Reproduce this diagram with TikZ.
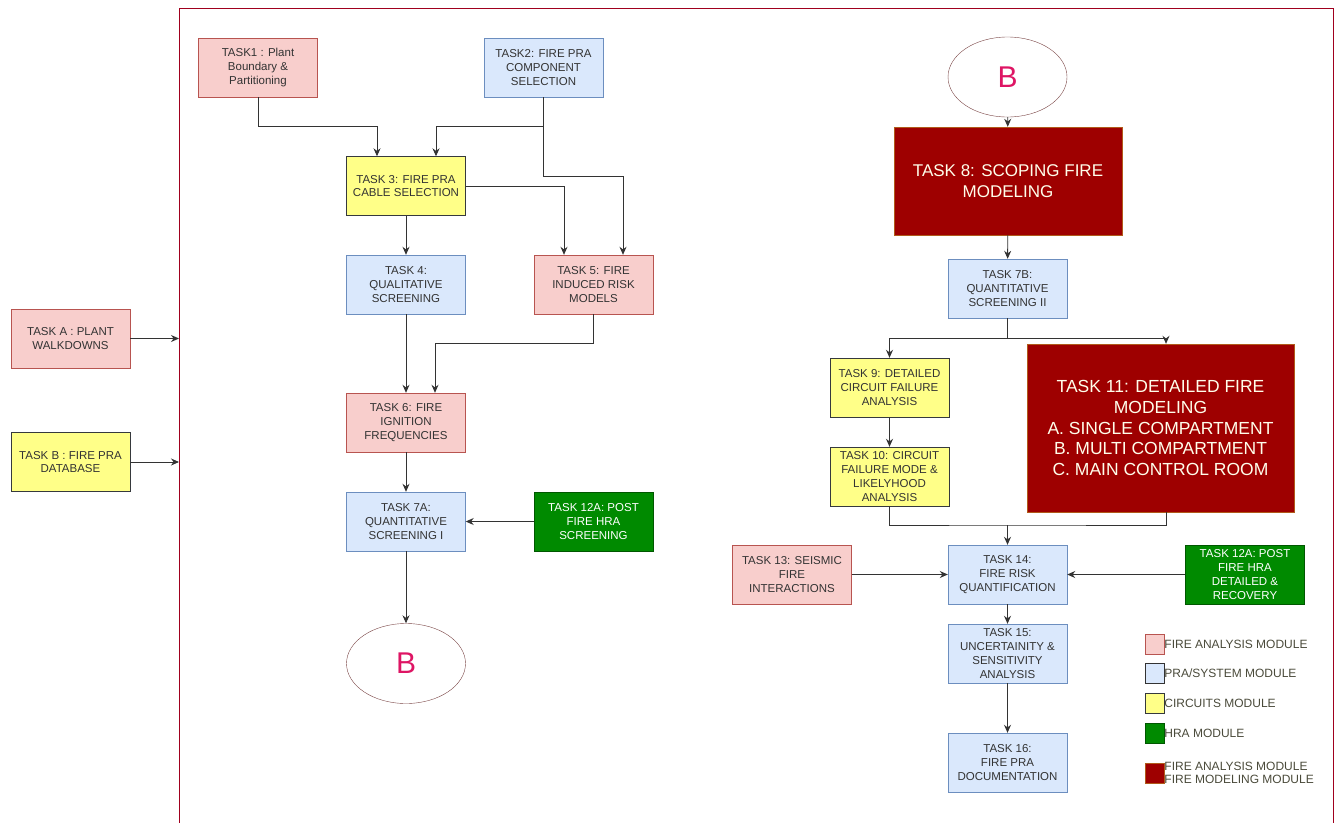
\documentclass[tikz,border=0pt]{standalone}
\usepackage{xcolor}
\usepackage{fontspec}
\setmainfont{Liberation Sans}
\usepackage{tikz}
\usetikzlibrary{arrows.meta,shapes.geometric}

\definecolor{firepink}{HTML}{F8CECC}
\definecolor{firepinkD}{HTML}{B85450}
\definecolor{prablue}{HTML}{DAE8FC}
\definecolor{prablueD}{HTML}{6C8EBF}
\definecolor{circyel}{HTML}{FFFF88}
\definecolor{circyelD}{HTML}{36393D}
\definecolor{hragreen}{HTML}{008A00}
\definecolor{hragreenD}{HTML}{005700}
\definecolor{modelred}{HTML}{9E0000}
\definecolor{modelD}{HTML}{B05A1A}
\definecolor{ellD}{HTML}{7A4545}
\definecolor{bcol}{HTML}{DE1564}
\definecolor{framecol}{HTML}{A0001E}
\definecolor{legtext}{HTML}{4A4A3A}

\tikzset{
  box/.style={draw, minimum width=119pt, minimum height=59pt, inner sep=1pt, align=center,
    font=\fontsize{11.5}{13.8}\selectfont, text=black!80},
  fireA/.style={box, fill=firepink, draw=firepinkD},
  pra/.style={box, fill=prablue, draw=prablueD},
  circ/.style={box, fill=circyel, draw=circyelD},
  hra/.style={box, fill=hragreen, draw=hragreenD, text=white},
  model/.style={draw=modelD, fill=modelred, text=white!92!yellow, align=center, inner sep=0pt,
    font=\fontsize{17}{20.8}\selectfont},
  term/.style={ellipse, draw=ellD, fill=white, minimum width=119pt, minimum height=80pt,
    inner sep=0pt, text=bcol, font=\fontsize{30}{30}\selectfont},
  arr/.style={-{Stealth[length=8pt,width=7pt]}, draw=black!80, line width=0.9pt},
  ln/.style={draw=black!80, line width=0.9pt},
  legsw/.style={draw, minimum width=19pt, minimum height=20pt, inner sep=0pt},
  legtx/.style={anchor=west, inner sep=0pt, text=legtext, align=left,
    font=\fontsize{12}{13}\selectfont}
}

\begin{document}
\begin{tikzpicture}[x=1pt,y=-1pt]
\useasboundingbox (0,0) rectangle (1340,822);
%frame
\draw[framecol, line width=0.8pt] (179,830) -- (179,8) -- (1333,8) -- (1333,830);
%left column
\node[fireA] (taskA) at (70.5,338.5) {TASK A : PLANT\\WALKDOWNS};
\node[circ] (taskB) at (70.5,462) {TASK B : FIRE PRA\\DATABASE};
\coordinate (inA) at (179,338.5);
\coordinate (inB) at (179,462);
%first sheet
\node[fireA] (task1) at (258,67.5) {TASK1 : Plant\\Boundary \&\\Partitioning};
\node[pra] (task2) at (543.5,67.5) {TASK2: FIRE PRA\\COMPONENT\\SELECTION};
\node[circ] (task3) at (406,186) {TASK 3: FIRE PRA\\CABLE SELECTION};
\node[pra] (task4) at (406,284.5) {TASK 4:\\QUALITATIVE\\SCREENING};
\node[fireA] (task5) at (593.5,284.5) {TASK 5: FIRE\\INDUCED RISK\\MODELS};
\node[fireA] (task6) at (406,422.5) {TASK 6: FIRE\\IGNITION\\FREQUENCIES};
\node[pra] (task7a) at (406,521.5) {TASK 7A:\\QUANTITATIVE\\SCREENING I};
\node[hra] (task12a) at (593.5,521.5) {TASK 12A: POST\\FIRE HRA\\SCREENING};
\node[term] (bL) at (406,663.5) {B};
%second sheet
\node[term] (bR) at (1007.5,77) {B};
\node[model, minimum width=228pt, minimum height=108pt] (task8) at (1008,181) {TASK 8: SCOPING FIRE\\MODELING};
\node[pra] (task7b) at (1007.5,288.5) {TASK 7B:\\QUANTITATIVE\\SCREENING II};
\node[circ] (task9) at (889.5,387.5) {TASK 9: DETAILED\\CIRCUIT FAILURE\\ANALYSIS};
\node[circ] (task10) at (889.5,476.5) {TASK 10: CIRCUIT\\FAILURE MODE \&\\LIKELYHOOD\\ANALYSIS};
\node[model, minimum width=267pt, minimum height=168pt, font=\fontsize{17.5}{20.8}\selectfont] (task11) at (1160.5,428)
  {TASK 11: DETAILED FIRE\\MODELING\\A. SINGLE COMPARTMENT\\B. MULTI COMPARTMENT\\C. MAIN CONTROL ROOM};
\node[fireA] (task13) at (792,574.5) {TASK 13: SEISMIC\\FIRE\\INTERACTIONS};
\node[pra] (task14) at (1007.5,574.5) {TASK 14:\\FIRE RISK\\QUANTIFICATION};
\node[hra] (task12b) at (1245,574.5) {TASK 12A: POST\\FIRE HRA\\DETAILED \&\\RECOVERY};
\node[pra] (task15) at (1007.5,653.5) {TASK 15:\\UNCERTAINITY \&\\SENSITIVITY\\ANALYSIS};
\node[pra] (task16) at (1007.5,762.5) {TASK 16:\\FIRE PRA\\DOCUMENTATION};
\coordinate (join) at (1007.5,525);
%legend
\node[legsw, fill=firepink, draw=firepinkD] (legFire) at (1154.5,644) {};
\node[legsw, fill=prablue, draw=black!80] (legPra) at (1154.5,673) {};
\node[legsw, fill=circyel, draw=circyelD] (legCirc) at (1154.5,703) {};
\node[legsw, fill=hragreen, draw=hragreenD] (legHra) at (1154.5,733) {};
\node[legsw, fill=modelred, draw=modelD] (legModel) at (1154.5,773) {};
\node[legtx] (legFireT) at (legFire.east) {FIRE ANALYSIS MODULE};
\node[legtx] (legPraT) at (legPra.east) {PRA/SYSTEM MODULE};
\node[legtx] (legCircT) at (legCirc.east) {CIRCUITS MODULE};
\node[legtx] (legHraT) at (legHra.east) {HRA MODULE};
\node[legtx] (legModelT) at (legModel.east) {FIRE ANALYSIS MODULE\\FIRE MODELING MODULE};
%arrows left
\draw[arr] (taskA) -- (inA);
\draw[arr] (taskB) -- (inB);
\draw[arr] (task1.south) -- ++(0,29) -| ([xshift=-29pt]task3.north);
\draw[arr] (task2.south) -- ++(0,29) -| ([xshift=30pt]task3.north);
\draw[arr] (task2.south) -- ++(0,79) -| ([xshift=29.5pt]task5.north);
\draw[arr] (task3.east) -| ([xshift=-29.5pt]task5.north);
\draw[arr] (task3) -- (task4);
\draw[arr] (task4) -- (task6);
\draw[arr] (task5.south) -- ++(0,29) -| ([xshift=29pt]task6.north);
\draw[arr] (task6) -- (task7a);
\draw[arr] (task12a) -- (task7a);
\draw[arr] (task7a) -- (bL);
%arrows right
\draw[arr] (bR) -- (task8);
\draw[arr] (task8) -- (task7b);
\draw[arr] (task7b.south) -- ++(0,20) -| (task9.north);
\draw[arr] (task7b.south) -- ++(0,20) -| ([xshift=5.5pt]task11.north);
\draw[arr] (task9) -- (task10);
\draw[ln] (task10.south) |- (join) -| ([xshift=5.5pt]task11.south);
\draw[arr] (join) -- (task14.north);
\draw[arr] (task13) -- (task14);
\draw[arr] (task12b) -- (task14);
\draw[arr] (task14) -- (task15);
\draw[arr] (task15) -- (task16);
\end{tikzpicture}
\end{document}
